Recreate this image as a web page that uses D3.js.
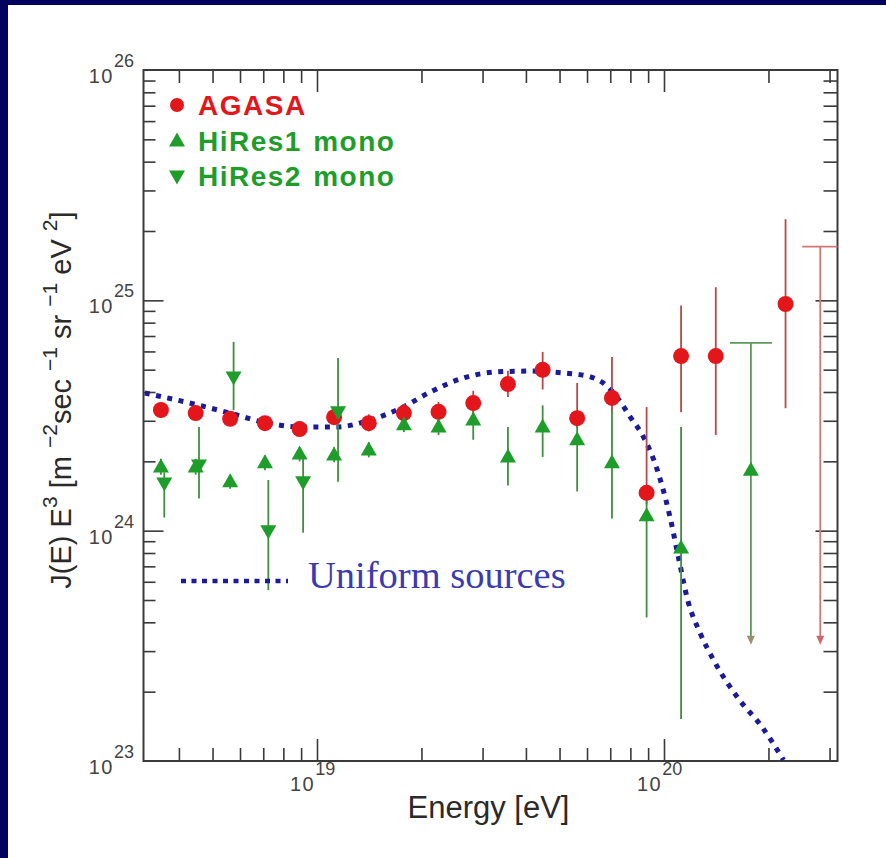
<!DOCTYPE html>
<html>
<head>
<meta charset="utf-8">
<script src="https://cdn.jsdelivr.net/npm/d3@7"></script>
<style>
  html, body { margin: 0; padding: 0; background: #020260; }
  svg { display: block; }
</style>
</head>
<body>
<div id="chart"></div>
<script>
// AGASA points (energy in eV, J E^3 in m^-2 sec^-1 sr^-1 eV^2)
const agasaE = [3.55e18, 4.47e18, 5.62e18, 7.08e18, 8.91e18, 1.12e19, 1.41e19, 1.78e19, 2.24e19,
  2.82e19, 3.55e19, 4.47e19, 5.62e19, 7.08e19, 8.91e19, 1.12e20, 1.41e20, 2.24e20];
const agasaJ = [3.34e24, 3.24e24, 3.06e24, 2.93e24, 2.76e24, 3.11e24, 2.93e24, 3.24e24, 3.28e24,
  3.58e24, 4.33e24, 4.99e24, 3.08e24, 3.77e24, 1.46e24, 5.73e24, 5.73e24, 9.64e24];
const agasaHi = [3.6e24, 3.5e24, 3.3e24, 3.15e24, 2.98e24, 3.38e24, 3.2e24, 3.55e24, 3.62e24,
  4.05e24, 4.95e24, 5.97e24, 4.38e24, 5.68e24, 3.44e24, 9.5e24, 1.14e25, 2.25e25];
const agasaLo = [3.1e24, 3.0e24, 2.85e24, 2.72e24, 2.56e24, 2.88e24, 2.7e24, 2.98e24, 2.98e24,
  3.2e24, 3.8e24, 4.1e24, 2.8e24, 3.3e24, 1.3e24, 3.27e24, 2.6e24, 3.4e24];
// AGASA upper limit
const agasaLimitE = 2.82e20;
const agasaLimitJ = 1.71e25;

// HiRes1 mono
const hires1E = [3.55e18, 4.47e18, 5.62e18, 7.08e18, 8.91e18, 1.12e19, 1.41e19, 1.78e19,
  2.24e19, 2.82e19, 3.55e19, 4.47e19, 5.62e19, 7.08e19, 8.91e19, 1.12e20];
const hires1J = [1.89e24, 1.89e24, 1.63e24, 1.97e24, 2.15e24, 2.13e24, 2.24e24, 2.88e24,
  2.82e24, 3.02e24, 2.09e24, 2.82e24, 2.48e24, 1.97e24, 1.16e24, 8.4e23];
const hires1Hi = [2.05e24, 2.05e24, 1.75e24, 2.12e24, 2.3e24, 2.3e24, 2.42e24, 3.1e24,
  3.05e24, 3.3e24, 2.82e24, 3.5e24, 3.1e24, 3.35e24, 1.45e24, 2.82e24];
const hires1Lo = [1.75e24, 1.75e24, 1.52e24, 1.83e24, 2.0e24, 1.98e24, 2.08e24, 2.68e24,
  2.6e24, 2.48e24, 1.57e24, 2.09e24, 1.48e24, 1.13e24, 4.2e23, 1.52e23];
// HiRes1 point with upper limit
const hires1LimitE = 1.78e20;
const hires1LimitJ = 1.83e24;
const hires1LimitCap = 6.53e24;
const limitArrowTip = 3.2e23;

// HiRes2 mono
const hires2E = [3.63e18, 4.57e18, 5.75e18, 7.24e18, 9.12e18, 1.15e19];
const hires2J = [1.61e24, 1.93e24, 4.65e24, 1.0e24, 1.63e24, 3.28e24];
const hires2Hi = [1.79e24, 2.82e24, 6.6e24, 1.66e24, 2.15e24, 5.62e24];
const hires2Lo = [1.14e24, 1.38e24, 3.34e24, 5.52e23, 9.8e23, 1.63e24];

// Uniform sources model curve
const curveE = [3.19e18, 4.51e18, 5.61e18, 7.0e18, 8.93e18, 1.14e19, 1.42e19, 1.77e19, 2.12e19,
  2.64e19, 3.30e19, 4.11e19, 5.12e19, 6.14e19, 6.68e19, 7.35e19, 8.0e19, 8.73e19, 9.57e19,
  1.04e20, 1.10e20, 1.17e20, 1.27e20, 1.39e20, 1.65e20, 1.90e20, 2.21e20];
const curveJ = [3.96e24, 3.52e24, 3.24e24, 2.96e24, 2.82e24, 2.82e24, 3.02e24, 3.44e24, 4.0e24,
  4.60e24, 4.89e24, 4.93e24, 4.84e24, 4.65e24, 4.38e24, 3.77e24, 3.11e24, 2.55e24, 1.83e24,
  1.15e24, 7.69e23, 5.0e23, 3.6e23, 2.74e23, 1.84e23, 1.43e23, 1.01e23];

const legendLabels = ["AGASA", "HiRes1 mono", "HiRes2 mono"];
const curveLabel = "Uniform sources";
const xTickExp = ["19", "20"];
const yTickExp = ["23", "24", "25", "26"];

const width = 886, height = 858;
const red = "#e3161b", green = "#1f9d2b", blue = "#1b1b98";
const axisColor = "#3a3a3a";

const svg = d3.select("#chart").append("svg")
  .attr("width", width)
  .attr("height", height)
  .style("font-family", "'Liberation Sans', Arial, sans-serif");

// slide background
svg.append("rect").attr("width", width).attr("height", height).attr("fill", "#020260");
svg.append("rect").attr("x", 8).attr("y", 5).attr("width", width - 8).attr("height", height - 5).attr("fill", "#fff");

const x = d3.scaleLog().domain([Math.pow(10, 18.5), Math.pow(10, 20.5)]).range([143.5, 837.5]);
const y = d3.scaleLog().domain([1e23, 1e26]).range([761, 70]);
const [x0, x1] = x.range();
const [y0, y1] = y.range();

// tick positions
const minorOf = (decades) => decades.flatMap((d) => d3.range(2, 10).map((m) => m * d));
const xMinor = minorOf([1e18, 1e19, 1e20]).filter((v) => v > x.domain()[0] && v < x.domain()[1]);
const xMajor = [1e19, 1e20];
const yMinor = minorOf([1e23, 1e24, 1e25]);
const yMajor = [1e24, 1e25];

const axisStyle = (g) => {
  g.selectAll("line").attr("stroke", axisColor).attr("stroke-width", 1.6);
  g.select(".domain").remove();
};
const addAxis = (axis, tr) => svg.append("g").attr("transform", tr).call(axis).call(axisStyle);

addAxis(d3.axisTop(x).tickValues(xMinor).tickSize(13).tickFormat(""), `translate(0,${y0})`);
addAxis(d3.axisTop(x).tickValues(xMajor).tickSize(22).tickFormat(""), `translate(0,${y0})`);
addAxis(d3.axisBottom(x).tickValues(xMinor).tickSize(13).tickFormat(""), `translate(0,${y1})`);
addAxis(d3.axisBottom(x).tickValues(xMajor).tickSize(22).tickFormat(""), `translate(0,${y1})`);
addAxis(d3.axisRight(y).tickValues(yMinor).tickSize(12).tickFormat(""), `translate(${x0},0)`);
addAxis(d3.axisRight(y).tickValues(yMajor).tickSize(20).tickFormat(""), `translate(${x0},0)`);
addAxis(d3.axisLeft(y).tickValues(yMinor).tickSize(14).tickFormat(""), `translate(${x1},0)`);
addAxis(d3.axisLeft(y).tickValues(yMajor).tickSize(22).tickFormat(""), `translate(${x1},0)`);

svg.append("rect")
  .attr("x", x0).attr("y", y1)
  .attr("width", x1 - x0).attr("height", y0 - y1)
  .attr("fill", "none")
  .attr("stroke", axisColor)
  .attr("stroke-width", 2);

// tick labels with superscripts
const power = (g, px, py, exp, anchorRight) => {
  const t = g.append("text").attr("fill", "#444").attr("x", px).attr("y", py)
    .attr("text-anchor", anchorRight ? "end" : "start");
  t.append("tspan").attr("font-size", 20).attr("letter-spacing", 1.5).text("10");
  t.append("tspan").attr("font-size", 18).attr("dy", -16).text(exp);
  return t;
};
const labels = svg.append("g");
yTickExp.forEach((e) => {
  power(labels, 134, y(Math.pow(10, +e)) + 13, e, true);
});
xTickExp.forEach((e) => {
  power(labels, x(Math.pow(10, +e)) - 27, y0 + 30, e, false);
});

// axis titles
svg.append("text")
  .attr("x", (x0 + x1) / 2 - 2).attr("y", 818)
  .attr("text-anchor", "middle")
  .attr("font-size", 31)
  .attr("fill", "#2a2a2a")
  .text("Energy [eV]");

const yTitle = svg.append("text")
  .attr("transform", "translate(71,400) rotate(-90)")
  .attr("text-anchor", "middle")
  .attr("font-size", 29)
  .attr("fill", "#2a2a2a");
[["J(E) E", 0], ["3", 1], [" [m ", 0], ["\u22122", 1], ["sec ", 0], ["\u22121", 1], [" sr ", 0], ["\u22121", 1],
  [" eV ", 0], ["2", 1], ["]", 0]].forEach(([s, sup], i, arr) => {
  const prevSup = i > 0 && arr[i - 1][1];
  yTitle.append("tspan")
    .attr("font-size", sup ? 21 : 29)
    .attr("dy", sup ? -14 : prevSup ? 14 : 0)
    .text(s);
});

const plot = svg.append("g");
plot.append("clipPath").attr("id", "clip")
  .append("rect").attr("x", x0).attr("y", y1).attr("width", x1 - x0).attr("height", y0 - y1);

// model curve
const line = d3.line().x((d) => x(d[0])).y((d) => y(d[1])).curve(d3.curveMonotoneX);
plot.append("path")
  .attr("clip-path", "url(#clip)")
  .attr("d", line(d3.zip(curveE, curveJ)))
  .attr("fill", "none")
  .attr("stroke", blue)
  .attr("stroke-width", 5)
  .attr("stroke-dasharray", "5 6.5");

// error bars
const bars = (E, lo, hi, color) => {
  plot.append("g").selectAll("line").data(E).join("line")
    .attr("x1", (d) => x(d)).attr("x2", (d) => x(d))
    .attr("y1", (d, i) => y(hi[i])).attr("y2", (d, i) => y(lo[i]))
    .attr("stroke", color).attr("stroke-width", 1.8);
};
bars(agasaE, agasaLo, agasaHi, "#b94848");
bars(hires2E, hires2Lo, hires2Hi, "#3f8f3f");
bars(hires1E, hires1Lo, hires1Hi, "#3f8f3f");

// upper limits: cap + line + small arrow head
const upperLimit = (E, capJ, color, arrowColor, capL, capR) => {
  const g = plot.append("g");
  const cx = x(E);
  g.append("line").attr("x1", cx - capL).attr("x2", Math.min(cx + capR, x1))
    .attr("y1", y(capJ)).attr("y2", y(capJ)).attr("stroke", color).attr("stroke-width", 1.8);
  g.append("line").attr("x1", cx).attr("x2", cx)
    .attr("y1", y(capJ)).attr("y2", y(limitArrowTip) - 6).attr("stroke", color).attr("stroke-width", 1.8);
  const ty = y(limitArrowTip);
  g.append("path").attr("d", `M${cx - 4},${ty - 9}L${cx},${ty}L${cx + 4},${ty - 9}Z`)
    .attr("fill", arrowColor);
};
upperLimit(agasaLimitE, agasaLimitJ, "#d47676", "#c86a6a", 18, 20);
upperLimit(hires1LimitE, hires1LimitCap, "#5a9a5a", "#9a9070", 21, 21);

// markers
const upTri = "M0,-8.5L8,5.5L-8,5.5Z";
const downTri = "M0,8.5L8,-5.5L-8,-5.5Z";
plot.append("g").selectAll("circle").data(d3.zip(agasaE, agasaJ)).join("circle")
  .attr("cx", (d) => x(d[0])).attr("cy", (d) => y(d[1])).attr("r", 8).attr("fill", red);
plot.append("g").selectAll("path").data(d3.zip(hires2E, hires2J)).join("path")
  .attr("transform", (d) => `translate(${x(d[0])},${y(d[1])})`).attr("d", downTri).attr("fill", green);
plot.append("g").selectAll("path").data(d3.zip(hires1E.concat([hires1LimitE]), hires1J.concat([hires1LimitJ]))).join("path")
  .attr("transform", (d) => `translate(${x(d[0])},${y(d[1])})`).attr("d", upTri).attr("fill", green);

// legend
const legend = svg.append("g").attr("font-weight", "bold").attr("font-size", 28);
const legendY = [105, 141, 176];
legend.append("circle").attr("cx", 177).attr("cy", legendY[0]).attr("r", 7).attr("fill", red);
legend.append("path").attr("transform", `translate(177,${legendY[1]})`).attr("d", upTri).attr("fill", green);
legend.append("path").attr("transform", `translate(177,${legendY[2]})`).attr("d", downTri).attr("fill", green);
legendLabels.forEach((s, i) => {
  legend.append("text").attr("x", 198).attr("y", legendY[i] + 10)
    .attr("fill", i === 0 ? red : green)
    .attr("letter-spacing", 1.5)
    .attr("word-spacing", 2)
    .text(s);
});

svg.append("line").attr("x1", 181).attr("x2", 288).attr("y1", 581).attr("y2", 581)
  .attr("stroke", blue).attr("stroke-width", 4.5).attr("stroke-dasharray", "5 5.5");
svg.append("text")
  .attr("x", 308).attr("y", 588)
  .attr("font-family", "'Liberation Serif', 'Times New Roman', serif")
  .attr("font-size", 38.5)
  .attr("fill", "#3b3bb0")
  .text(curveLabel);
</script>
</body>
</html>
